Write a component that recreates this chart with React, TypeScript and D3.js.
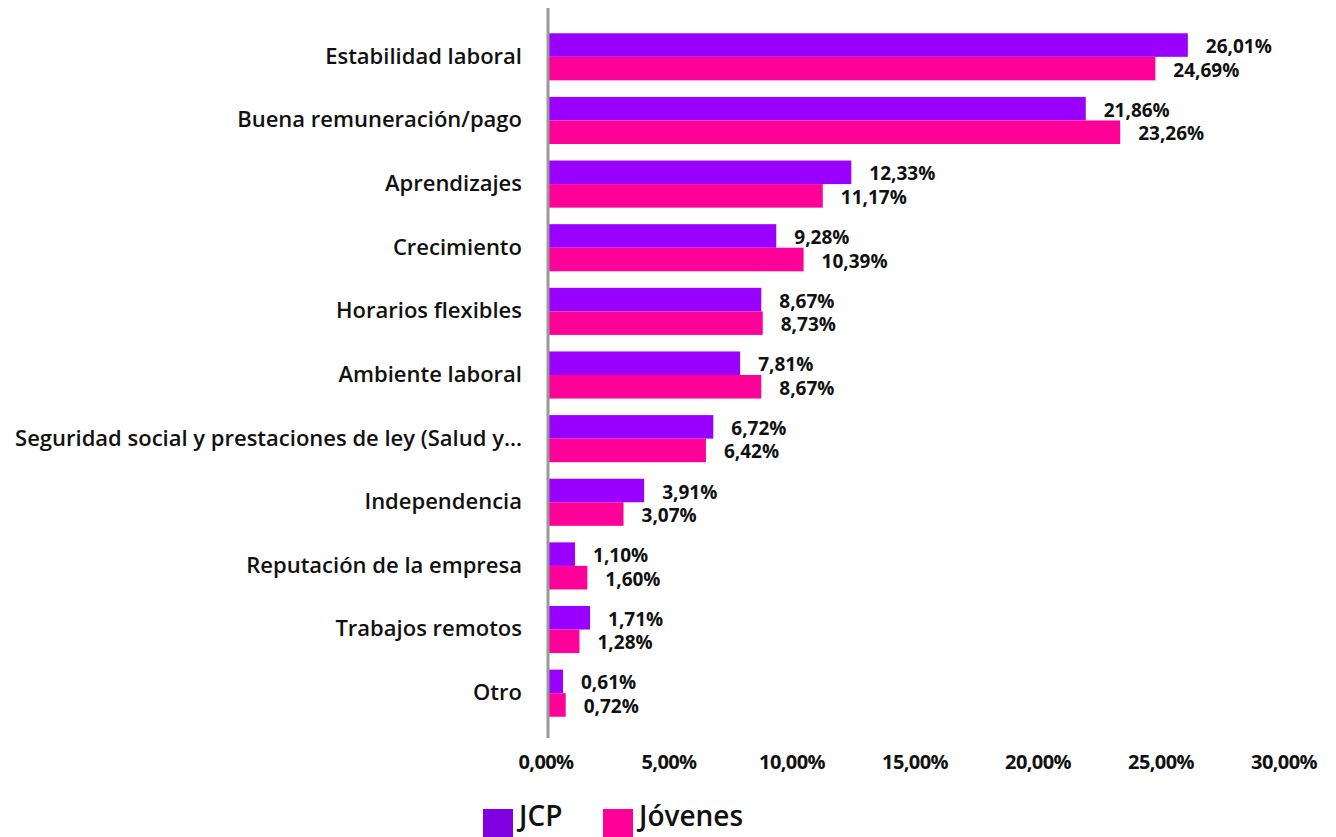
import { useEffect, useRef } from 'react';
import * as d3 from 'd3';

const categories = [
  'Estabilidad laboral',
  'Buena remuneración/pago',
  'Aprendizajes',
  'Crecimiento',
  'Horarios flexibles',
  'Ambiente laboral',
  'Seguridad social y prestaciones de ley (Salud y...',
  'Independencia',
  'Reputación de la empresa',
  'Trabajos remotos',
  'Otro',
];
const jcp = [26.01, 21.86, 12.33, 9.28, 8.67, 7.81, 6.72, 3.91, 1.1, 1.71, 0.61];
const jovenes = [24.69, 23.26, 11.17, 10.39, 8.73, 8.67, 6.42, 3.07, 1.6, 1.28, 0.72];
const ticks = [0, 5, 10, 15, 20, 25, 30];
const seriesNames = ['JCP', 'Jóvenes'];

const PURPLE = '#9900FF';
const PINK = '#FF0099';
const FONT = '"Open Sans", Lato, sans-serif';

const fmt = (v: number) => v.toFixed(2).replace('.', ',') + '%';

export default function App() {
  const ref = useRef<SVGSVGElement>(null);
  useEffect(() => {
    if (!ref.current) return;
    const svg = d3.select(ref.current);
    svg.selectAll('*').remove();

    const x = d3.scaleLinear().domain([0, 30]).range([548, 1286]);
    const y = d3.scaleBand().domain(categories).range([25, 725]).paddingInner(0.26).paddingOuter(0.13);
    const sub = d3.scaleBand().domain(seriesNames).range([0, y.bandwidth()]);

    const rows = categories.map((c, i) => ({ c, vals: [jcp[i], jovenes[i]] }));
    const g = svg.append('g');
    rows.forEach(r => {
      r.vals.forEach((v, k) => {
        const yy = (y(r.c) as number) + (sub(seriesNames[k]) as number);
        g.append('rect').attr('x', x(0)).attr('y', yy)
          .attr('width', x(v) - x(0)).attr('height', sub.bandwidth())
          .attr('fill', k === 0 ? PURPLE : PINK);
        g.append('text').attr('x', x(v) + 18).attr('y', yy + sub.bandwidth() / 2 + 3)
          .attr('dominant-baseline', 'middle')
          .style('font-family', FONT).style('font-weight', 700).style('font-size', '19px')
          .style('fill', '#111').text(fmt(v));
      });
    });

    // category labels
    const labels = svg.append('g').selectAll('text').data(categories).enter().append('text')
      .attr('x', 522).attr('y', d => (y(d) as number) + y.bandwidth() / 2 + 1)
      .attr('text-anchor', 'end').attr('dominant-baseline', 'middle')
      .style('font-family', FONT).style('font-weight', 600).style('font-size', '22px')
      .style('fill', '#111').text(d => d);
    labels.each(function () {
      const t = this as SVGTextElement;
      if (t.getComputedTextLength() > 512) d3.select(t).attr('x', 9).attr('text-anchor', 'start');
    });

    // axis line
    svg.append('line').attr('x1', 548).attr('x2', 548).attr('y1', 8).attr('y2', 738)
      .attr('stroke', '#999').attr('stroke-width', 3);

    // x tick labels
    svg.append('g').selectAll('text').data(ticks).enter().append('text')
      .attr('x', d => x(d) - 2).attr('y', 764)
      .attr('text-anchor', 'middle').attr('dominant-baseline', 'middle')
      .style('font-family', FONT).style('font-weight', 700).style('font-size', '20px')
      .style('letter-spacing', '-0.6px').style('fill', '#111').text(d => fmt(d));

    // legend
    const legend = [
      { name: seriesNames[0], color: '#8000E0', x: 483 },
      { name: seriesNames[1], color: PINK, x: 603 },
    ];
    const lg = svg.append('g');
    legend.forEach(l => {
      lg.append('rect').attr('x', l.x).attr('y', 809).attr('width', 30).attr('height', 28).attr('fill', l.color);
      lg.append('text').attr('x', l.x + 36).attr('y', 826)
        .style('font-family', FONT).style('font-weight', 600).style('font-size', '28px')
        .style('fill', '#111').text(l.name);
    });
  }, []);
  return (
    <svg ref={ref} width={1336} height={837}
      style={{ position: 'absolute', left: 0, top: 0, background: '#fff' }} />
  );
}
